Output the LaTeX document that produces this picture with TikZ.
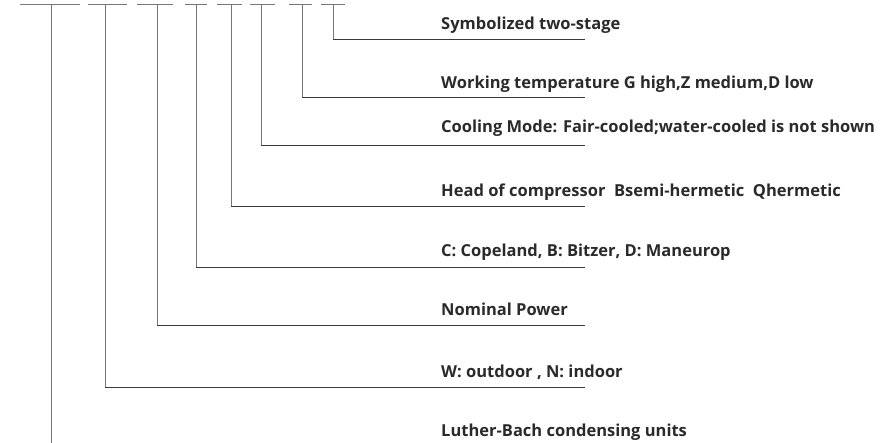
\documentclass[tikz,border=0pt]{standalone}
\usepackage{fontspec}
\setmainfont{Open Sans}
\usepackage{xcolor}
\usepackage{tikz}
\usetikzlibrary{positioning,calc}
\definecolor{leadgray}{HTML}{777777}
\definecolor{linedark}{HTML}{3A3A3A}
\definecolor{textdark}{HTML}{2A2A2A}
\tikzset{
  seg/.style={draw=leadgray,line width=1pt},
  lead/.style={draw=leadgray,line width=0.9pt},
  under/.style={draw=linedark,line width=0.9pt},
  lbl/.style={anchor=base west,inner sep=0pt,font=\bfseries\fontsize{16.5}{19}\selectfont,
              text=textdark}
}

\begin{document}
\begin{tikzpicture}[x=1pt,y=-1pt]
  \useasboundingbox (0,0) rectangle (889,443);

  % code segments across the top
  \coordinate (s1a) at (20,5);  \coordinate (s1b) at (80,5);  \coordinate (t1) at (51,5);
  \coordinate (s2a) at (88,5);  \coordinate (s2b) at (127,5); \coordinate (t2) at (105,5);
  \coordinate (s3a) at (137,5); \coordinate (s3b) at (173,5); \coordinate (t3) at (157,5);
  \coordinate (s4a) at (185,5); \coordinate (s4b) at (207,5); \coordinate (t4) at (196,5);
  \coordinate (s5a) at (217,5); \coordinate (s5b) at (242,5); \coordinate (t5) at (231,5);
  \coordinate (s6a) at (250,5); \coordinate (s6b) at (275,5); \coordinate (t6) at (261,5);
  \coordinate (s7a) at (289,5); \coordinate (s7b) at (312,5); \coordinate (t7) at (302,5);
  \coordinate (s8a) at (321,5); \coordinate (s8b) at (345,5); \coordinate (t8) at (333,5);

  % labels
  \node[lbl] (stage) at (441,30) {Symbolized two-stage};
  \node[lbl] (temp) at (441,89) {Working temperature G high,Z medium,D low};
  \node[lbl] (cool) at (441,133) {Cooling Mode: Fair-cooled;water-cooled is not shown};
  \node[lbl] (head) at (441,197) {Head of compressor\ \ Bsemi-hermetic\ \ Qhermetic};
  \node[lbl] (brand) at (441,257) {C: Copeland, B: Bitzer, D: Maneurop};
  \node[lbl] (power) at (441,316) {Nominal Power};
  \node[lbl] (place) at (441,378) {W: outdoor , N: indoor};
  \node[lbl] (unit) at (441,437) {Luther-Bach condensing units};

  % ends of the underlines
  \coordinate (e8) at (585,39);
  \coordinate (e7) at (585,97);
  \coordinate (e6) at (585,145);
  \coordinate (e5) at (585,206);
  \coordinate (e4) at (585,267);
  \coordinate (e3) at (585,325);
  \coordinate (e2) at (585,387);
  \coordinate (e1) at (51,443);

  \draw[seg] (s1a) -- (s1b);
  \draw[seg] (s2a) -- (s2b);
  \draw[seg] (s3a) -- (s3b);
  \draw[seg] (s4a) -- (s4b);
  \draw[seg] (s5a) -- (s5b);
  \draw[seg] (s6a) -- (s6b);
  \draw[seg] (s7a) -- (s7b);
  \draw[seg] (s8a) -- (s8b);

  \draw[lead] (t8) -- (t8 |- e8);  \draw[under] (t8 |- e8) -- (e8);
  \draw[lead] (t7) -- (t7 |- e7);  \draw[under] (t7 |- e7) -- (e7);
  \draw[lead] (t6) -- (t6 |- e6);  \draw[under] (t6 |- e6) -- (e6);
  \draw[lead] (t5) -- (t5 |- e5);  \draw[under] (t5 |- e5) -- (e5);
  \draw[lead] (t4) -- (t4 |- e4);  \draw[under] (t4 |- e4) -- (e4);
  \draw[lead] (t3) -- (t3 |- e3);  \draw[under] (t3 |- e3) -- (e3);
  \draw[lead] (t2) -- (t2 |- e2);  \draw[under] (t2 |- e2) -- (e2);
  \draw[lead] (t1) -- (e1);
\end{tikzpicture}
\end{document}
